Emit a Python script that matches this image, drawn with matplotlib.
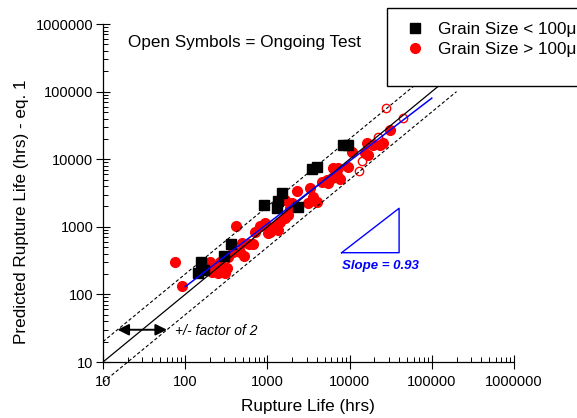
import matplotlib
matplotlib.use('Agg')
import matplotlib.pyplot as plt
from matplotlib.patches import Rectangle
from matplotlib.ticker import LogLocator, FixedLocator, FixedFormatter
import numpy as np

plt.rcParams['font.family'] = ['Liberation Sans', 'DejaVu Sans']

# red filled circles: grain size > 100 um (rupture life, predicted life)
red_x = [76, 92, 200, 265, 230, 210, 250, 305, 320, 280,
         410, 485, 590, 660, 465, 520, 385, 335,
         705, 810, 935, 1075, 1240, 1420, 1640, 1800, 1880, 2070, 2270, 3300,
         3620, 4000, 3150, 1640, 1980, 1360, 1025,
         4580, 5260, 6050, 6960, 7290, 6340, 7640, 5510, 9640, 10600,
         16100, 19400, 23400, 25700, 16700, 15400, 31000]
red_y = [300, 135, 300, 300, 255, 214, 207, 207, 245, 245,
         1030, 570, 560, 560, 430, 370, 430, 360,
         850, 1030, 1130, 850, 1030, 1190, 1340, 1500, 1880, 2100, 3420, 3720,
         2790, 2350, 2230, 2490, 2230, 900, 800,
         4640, 4920, 5210, 5830, 7330, 7330, 5050, 4400, 7740, 12900,
         17200, 16200, 16200, 17200, 11500, 12200, 27000]

# black squares: grain size < 100 um
black_x = [142, 156, 171, 297, 357, 916, 1300, 1330, 1520, 2380, 3460, 4000, 8200, 9640]
black_y = [210, 305, 230, 370, 550, 2100, 1880, 2430, 3160, 1980, 7100, 7600, 16200, 16200]

# open circles: ongoing tests
open_x = [22000, 14300, 13100, 27500, 45000]
open_y = [21500, 9500, 6700, 57000, 41000]

# reference lines and fit
ref_x = [10, 200000]
fit_x = [100, 100000]
fit_y = [130, 80000]
tri_x = [8000, 40000, 40000, 8000]
tri_y = [414, 1880, 414, 414]

decades = [10, 100, 1000, 10000, 100000, 1000000]
decade_labels = ['10', '100', '1000', '10000', '100000', '1000000']

fig = plt.figure(figsize=(5.77, 4.18), dpi=100)
ax = fig.add_axes([103 / 577, 56 / 418, 411 / 577, 338 / 418])

ax.plot(red_x, red_y, 'o', color='#ff0000', ms=7, mec='#ff0000', zorder=2,
        label='Grain Size > 100\u03bcm')
ax.plot(black_x, black_y, 's', color='black', ms=6.5, zorder=2,
        label='Grain Size < 100\u03bcm')
ax.plot(open_x, open_y, 'o', mfc='none', mec='#ff0000', ms=6, mew=1, zorder=2)

rx = np.array(ref_x, dtype=float)
ax.plot(rx, rx, color='black', lw=0.9, zorder=3)
ax.plot(rx, rx * 2, color='black', lw=0.8, ls=(0, (3, 2)), zorder=3)
ax.plot(rx, rx / 2, color='black', lw=0.8, ls=(0, (3, 2)), zorder=3, clip_on=False)
ax.plot(fit_x, fit_y, color='#0000ff', lw=1.1, zorder=3)
ax.plot(tri_x, tri_y, color='#0000ff', lw=1, zorder=3)

ax.annotate('', xy=(15, 30), xytext=(60, 30),
            arrowprops=dict(arrowstyle='<|-|>', color='black', lw=1.4,
                            mutation_scale=17, shrinkA=0, shrinkB=0))
ax.text(75, 29, '+/- factor of 2', fontsize=10, style='italic', va='center', ha='left')
ax.text(23400, 263, 'Slope = 0.93', fontsize=9.5, style='italic', weight='bold',
        color='#0000ff', ha='center', va='center')

ax.set_xscale('log')
ax.set_yscale('log')
ax.set_xlim(10, 1000000)
ax.set_ylim(10, 1000000)
ax.xaxis.set_major_locator(FixedLocator(decades))
ax.xaxis.set_major_formatter(FixedFormatter(decade_labels))
ax.yaxis.set_major_locator(FixedLocator(decades))
ax.yaxis.set_major_formatter(FixedFormatter(decade_labels))
ax.xaxis.set_minor_locator(LogLocator(base=10, subs=np.arange(2, 10)))
ax.yaxis.set_minor_locator(LogLocator(base=10, subs=np.arange(2, 10)))
ax.xaxis.set_minor_formatter(plt.NullFormatter())
ax.yaxis.set_minor_formatter(plt.NullFormatter())
ax.tick_params(which='major', direction='inout', length=10, width=0.8, labelsize=10.5)
ax.tick_params(axis='x', which='major', pad=4)
ax.tick_params(axis='y', which='major', pad=2)
ax.tick_params(which='minor', direction='in', length=3.5, width=0.7)
ax.spines['top'].set_visible(False)
ax.spines['right'].set_visible(False)
for s in ('left', 'bottom'):
    ax.spines[s].set_linewidth(0.9)

fig.text(308 / 577, 1 - 407 / 418, 'Rupture Life (hrs)', fontsize=12.3, ha='center', va='center')
fig.text(22 / 577, 1 - 212 / 418, 'Predicted Rupture Life (hrs) - eq. 1', fontsize=12.3,
         rotation=90, ha='center', va='center')
fig.text(128 / 577, 1 - 42 / 418, 'Open Symbols = Ongoing Test', fontsize=12.3,
         ha='left', va='center')

# legend box runs off the right edge of the figure, as in the source chart
fig.patches.append(Rectangle((387 / 577, 1 - 86 / 418), 0.4, 78 / 418,
                             transform=fig.transFigure, facecolor='white',
                             edgecolor='black', lw=1, zorder=4))
h, l = ax.get_legend_handles_labels()
fig.legend([h[1], h[0]], [l[1], l[0]], loc='upper left', frameon=False,
           bbox_to_anchor=(403 / 577, 1 - 22 / 418), borderpad=0, borderaxespad=0,
           handlelength=1.4, handletextpad=0.65, labelspacing=0.3, fontsize=12.3)

fig.savefig('out.png', dpi=100)
